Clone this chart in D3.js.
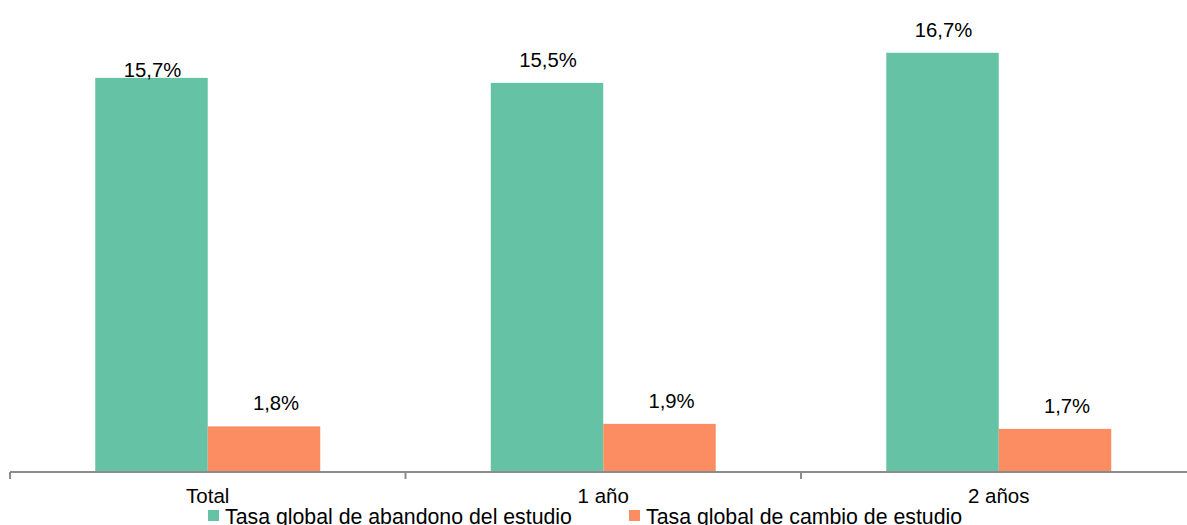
<!DOCTYPE html>
<html>
<head>
<meta charset="utf-8">
<script src="https://cdn.jsdelivr.net/npm/d3@7"></script>
<style>
  html, body { margin: 0; padding: 0; background: #fff; }
  svg { display: block; font-family: "Liberation Sans", Arial, sans-serif; }
</style>
</head>
<body>
<svg id="chart" width="1187" height="525"></svg>
<script>
const categories = ["Total", "1 año", "2 años"];
const seriesNames = ["Tasa global de abandono del estudio", "Tasa global de cambio de estudio"];
const abandono = [15.7, 15.5, 16.7];
const cambio = [1.8, 1.9, 1.7];
const colors = ["#66C2A5", "#FC8D62"];

const W = 1187, H = 525;
const svg = d3.select("#chart");

const x0 = d3.scaleBand().domain(categories).range([10, 1196.5]).paddingInner(0).paddingOuter(0);
const x1 = d3.scaleBand().domain([0, 1]).range([0, x0.bandwidth()]).paddingInner(0).paddingOuter(0.758);
const y = d3.scaleLinear().domain([0, 18]).range([471.5, 20.2]);

const seriesValues = [abandono, cambio];
const data = [];
categories.forEach((c, i) => {
  seriesValues.forEach((vals, s) => data.push({ cat: c, s, v: vals[i], i }));
});

// bars
svg.append("g").selectAll("rect").data(data).join("rect")
  .attr("x", d => x0(d.cat) + x1(d.s))
  .attr("y", d => y(d.v))
  .attr("width", x1.bandwidth())
  .attr("height", d => y(0) - y(d.v))
  .attr("fill", d => colors[d.s]);

// axis
const axisG = svg.append("g").attr("transform", `translate(0,${y(0) + 0.5})`);
axisG.append("line").attr("x1", 10).attr("x2", W).attr("y1", 0).attr("y2", 0)
  .attr("stroke", "#8c8c8c").attr("stroke-width", 2);
const tickPos = categories.map(c => x0(c)).concat([x0.range()[1]]);
axisG.selectAll("line.tick").data(tickPos).join("line").attr("class", "tick")
  .attr("x1", d => d).attr("x2", d => d).attr("y1", 0).attr("y2", 7)
  .attr("stroke", "#8c8c8c").attr("stroke-width", 2);
svg.append("g").selectAll("text").data(categories).join("text")
  .attr("x", d => x0(d) + x0.bandwidth() / 2)
  .attr("y", 503)
  .attr("text-anchor", "middle")
  .attr("font-size", 20.5)
  .attr("fill", "#000")
  .text(d => d);

// value labels
const labelDx = [1, 12];
const fmt = v => v.toFixed(1).replace(".", ",") + "%";
svg.append("g").selectAll("text").data(data).join("text")
  .attr("x", d => x0(d.cat) + x1(d.s) + x1.bandwidth() / 2 + labelDx[d.s])
  .attr("y", d => y(d.v) - ((d.i === 0 && d.s === 0) ? 1 : 16))
  .attr("text-anchor", "middle")
  .attr("font-size", 20.3)
  .attr("fill", "#000")
  .text(d => fmt(d.v));

// legend
const legendX = [208, 629];
const lg = svg.append("g").selectAll("g").data(seriesNames).join("g")
  .attr("transform", (d, i) => `translate(${legendX[i]},0)`);
lg.append("rect").attr("x", 0).attr("y", 510).attr("width", 11).attr("height", 11)
  .attr("fill", (d, i) => colors[i]);
lg.append("text").attr("x", 17).attr("y", 524).attr("font-size", 21.3).attr("fill", "#000")
  .text(d => d);
</script>
</body>
</html>
